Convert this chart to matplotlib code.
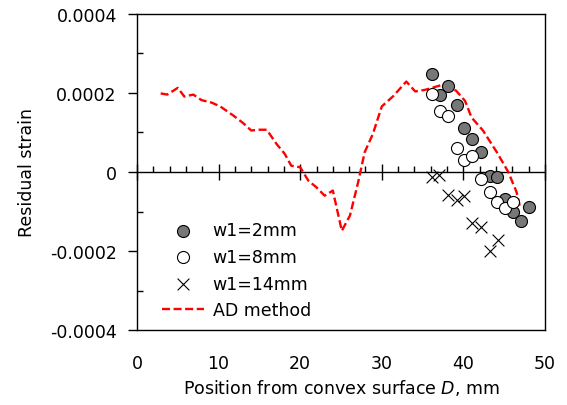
import matplotlib
matplotlib.use("Agg")
import matplotlib.pyplot as plt
from matplotlib.ticker import MultipleLocator

plt.rcParams['font.family'] = ['DejaVu Sans']

# AD method line
ad_x = [2.9, 3.7, 5.0, 5.8, 6.9, 7.9, 9.1, 10.2, 11.8, 13.0, 14.0, 14.9, 15.9,
        17.1, 18.1, 18.9, 20.0, 21.0, 22.0, 23.0, 24.0, 25.1, 26.1, 27.1, 27.9,
        28.9, 30.0, 31.4, 33.0, 34.1, 35.3, 37.3, 39.1, 40.2, 41.0, 42.4, 44.1,
        45.5, 46.5, 46.9]
ad_y = [0.000199, 0.000196, 0.000213, 0.000191, 0.000196, 0.000182, 0.000176,
        0.000166, 0.000143, 0.000124, 0.000105, 0.000107, 0.000107, 0.000071,
        0.000046, 0.000016, 0.000012, -0.000022, -0.000039, -0.000060, -0.000047,
        -0.000149, -0.000110, -0.000026, 0.000050, 0.000096, 0.000166, 0.000192,
        0.000229, 0.000204, 0.000208, 0.000220, 0.000206, 0.000180, 0.000138,
        0.000105, 0.000050, 0.000000, -0.000050, -0.000085]

# w1 = 2 mm
w2_x = [36.1, 37.1, 38.1, 39.2, 40.1, 41.1, 42.2, 43.2, 44.1, 45.1, 46.1, 47.1, 48.1]
w2_y = [0.000247, 0.000196, 0.000217, 0.000170, 0.000111, 0.000084, 0.000050,
        -0.000011, -0.000012, -0.000068, -0.000100, -0.000125, -0.000089]

# w1 = 8 mm
w8_x = [36.1, 37.1, 38.1, 39.2, 40.1, 41.1, 42.2, 43.2, 44.1, 45.1, 46.1]
w8_y = [0.000198, 0.000154, 0.000141, 0.000060, 0.000031, 0.000040, -0.000018,
        -0.000051, -0.000075, -0.000091, -0.000077]

# w1 = 14 mm
w14_x = [36.1, 37.0, 38.1, 39.2, 40.1, 41.1, 42.2, 43.2, 44.2]
w14_y = [-0.0000135, -0.0000076, -0.000057, -0.000071, -0.000060, -0.000129,
         -0.000140, -0.000201, -0.000172]

x_ticks = [0, 10, 20, 30, 40, 50]
y_ticks = [-0.0004, -0.0002, 0, 0.0002, 0.0004]
y_tick_labels = ['-0.0004', '-0.0002', '0', '0.0002', '0.0004']

fs = 12.5
fig = plt.figure(figsize=(5.67, 4.06), dpi=100)
ax = fig.add_axes([137/567, 75/406, 408/567, 316/406])

l_ad, = ax.plot(ad_x, ad_y, color='#ff0000', lw=1.7, ls=(0, (3.4, 1.5)), zorder=2,
                label='AD method')
p2 = ax.scatter(w2_x, w2_y, s=75, facecolor='#777777', edgecolor='black', lw=0.8,
                zorder=3, label='w1=2mm')
p8 = ax.scatter(w8_x, w8_y, s=75, facecolor='white', edgecolor='black', lw=0.8,
                zorder=3, label='w1=8mm')
p14 = ax.scatter(w14_x, w14_y, s=72, marker='x', color='black', lw=0.8,
                 zorder=3, label='w1=14mm')

ax.set_xlim(0, 50)
ax.set_ylim(-0.0004, 0.0004)

for s in ax.spines.values():
    s.set_linewidth(1.0)
    s.set_color('#000000')

ax.set_xticks(x_ticks)
ax.set_xticklabels([str(v) for v in x_ticks], fontsize=fs)
ax.tick_params(axis='x', which='both', length=0, pad=17)
ax.set_yticks(y_ticks)
ax.set_yticklabels(y_tick_labels, fontsize=fs)
ax.yaxis.set_minor_locator(MultipleLocator(0.0001))
ax.tick_params(axis='y', which='major', direction='out', length=6.5, width=1, pad=8)
ax.tick_params(axis='y', which='minor', direction='in', length=4, width=1)

# x-axis crossing at y = 0
sec = ax.secondary_xaxis(0.5)
for s in sec.spines.values():
    s.set_linewidth(1.0)
sec.set_xticks(x_ticks)
sec.set_xticklabels([])
sec.xaxis.set_minor_locator(MultipleLocator(2))
sec.tick_params(axis='x', which='major', direction='inout', length=11, width=1,
                labeltop=False, labelbottom=False)
sec.tick_params(axis='x', which='minor', direction='out', length=4.5, width=1,
                labeltop=False, labelbottom=False)

ax.set_xlabel('Position from convex surface $\\it{D}$, mm', fontsize=fs, labelpad=4)
ax.set_ylabel('Residual strain', fontsize=fs, labelpad=10)

leg = ax.legend(handles=[p2, p8, p14, l_ad], loc='lower left',
                bbox_to_anchor=(0.062, 0.034), frameon=False, fontsize=fs,
                handlelength=2.4, handletextpad=0.5, labelspacing=0.5,
                borderpad=0, borderaxespad=0)

fig.savefig('out.png', dpi=100)
